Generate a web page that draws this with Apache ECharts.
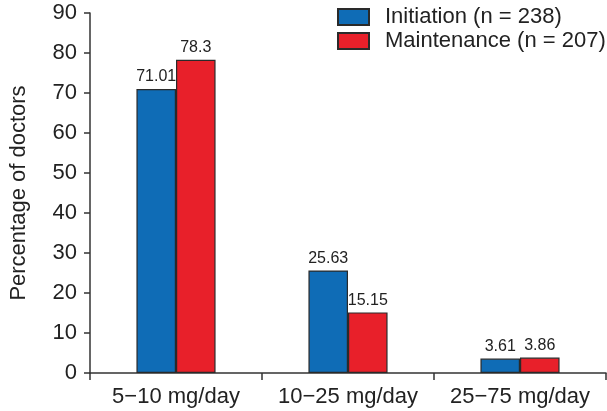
<!DOCTYPE html>
<html><head><meta charset="utf-8">
<script src="https://cdn.jsdelivr.net/npm/echarts@6/dist/echarts.min.js"></script>
<style>html,body{margin:0;padding:0;background:#fff}#c{width:607px;height:411px}</style>
</head><body><div id="c"></div>
<script>
const categories = ['5\u221210 mg/day', '10\u221225 mg/day', '25\u221275 mg/day'];
const initiation = [71.01, 25.63, 3.61];
const maintenance = [78.3, 15.15, 3.86];
const initiationName = 'Initiation (n = 238)';
const maintenanceName = 'Maintenance (n = 207)';
const yTicks = [0, 10, 20, 30, 40, 50, 60, 70, 80, 90];

const font = 'Liberation Sans, Arial, Helvetica, sans-serif';
const chart = echarts.init(document.getElementById('c'), null, {renderer: 'canvas'});
const lbl = {show: true, position: 'top', distance: 4, fontSize: 16, color: '#222', fontFamily: font,
  formatter: p => String(p.value)};
chart.setOption({
  animation: false,
  textStyle: {fontFamily: font},
  grid: {left: 82, right: 1, top: 13, bottom: 38, containLabel: false},
  legend: {
    orient: 'vertical', left: 332, top: 1, padding: 5, itemWidth: 31, itemHeight: 16, itemGap: 2,
    icon: 'rect',
    textStyle: {fontSize: 22, lineHeight: 22, color: '#222', fontFamily: font, padding: [0, 0, 0, 11]},
    data: [initiationName, maintenanceName]
  },
  xAxis: {
    type: 'category', data: categories,
    axisLine: {lineStyle: {color: '#333', width: 1.5}},
    axisTick: {show: true, length: 7, alignWithLabel: false, lineStyle: {color: '#333', width: 1.5}},
    axisLabel: {interval: 0, fontSize: 22, lineHeight: 22, color: '#222', margin: 13, fontFamily: font, hideOverlap: false}
  },
  yAxis: {
    type: 'value', min: yTicks[0], max: yTicks[yTicks.length - 1], interval: 10,
    name: 'Percentage of doctors', nameLocation: 'middle', nameGap: 60,
    nameTextStyle: {fontSize: 22, lineHeight: 22, color: '#222', fontFamily: font},
    splitLine: {show: false},
    axisLine: {show: true, lineStyle: {color: '#333', width: 1.5}},
    axisTick: {show: true, length: 6, lineStyle: {color: '#333', width: 1.5}},
    axisLabel: {fontSize: 22, color: '#222', margin: 13, fontFamily: font}
  },
  series: [
    {name: initiationName, type: 'bar', data: initiation, barGap: '0%', barCategoryGap: '54%',
     itemStyle: {color: '#0f6cb6', borderColor: '#2a2a2a', borderWidth: 1.2}, label: lbl},
    {name: maintenanceName, type: 'bar', data: maintenance, barGap: '0%', barCategoryGap: '54%',
     itemStyle: {color: '#e8202a', borderColor: '#2a2a2a', borderWidth: 1.2}, label: lbl}
  ]
});
</script></body></html>
